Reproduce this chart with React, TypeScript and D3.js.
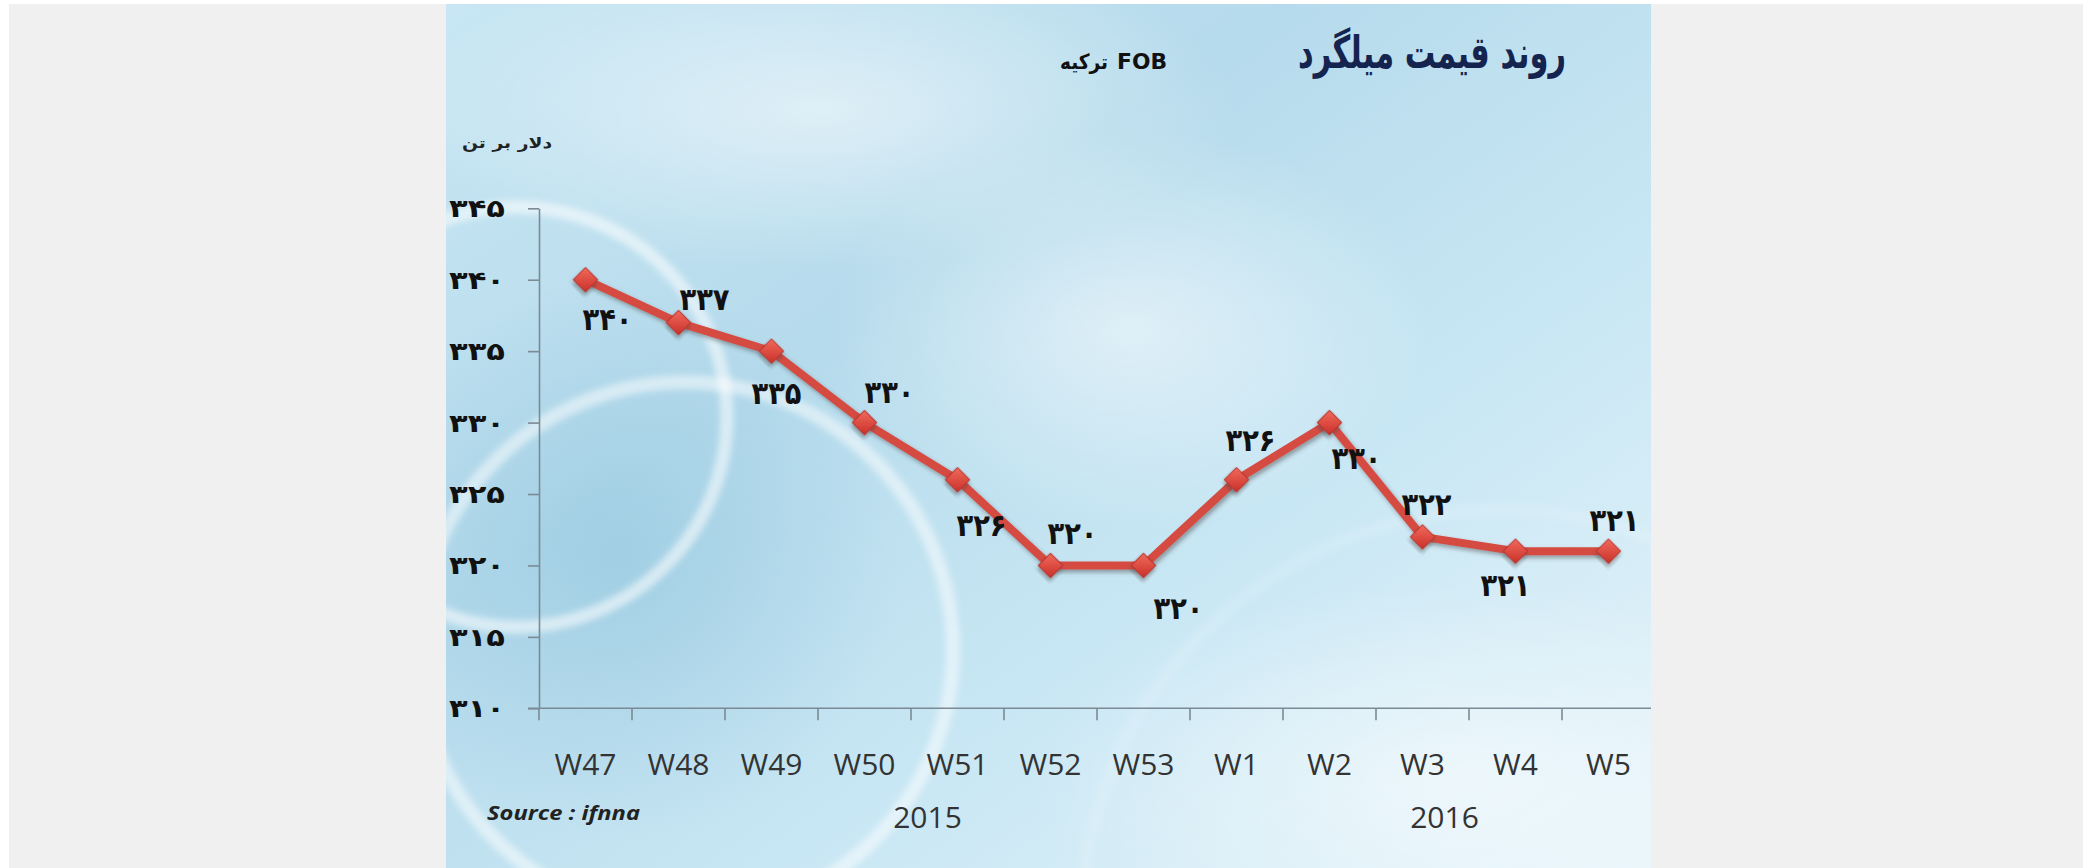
import * as d3 from 'd3';
import React, { useEffect, useRef } from 'react';

// weeks and prices (USD per ton), FOB Turkey
const weeks = ['W47', 'W48', 'W49', 'W50', 'W51', 'W52', 'W53', 'W1', 'W2', 'W3', 'W4', 'W5'];
const prices = [340, 337, 335, 330, 326, 320, 320, 326, 330, 322, 321, 321];
const yTicks = [310, 315, 320, 325, 330, 335, 340, 345];
const years = [
    { label: '2015', anchor: 'W51', dx: -30 },
    { label: '2016', anchor: 'W3', dx: 22 },
];
const title = 'روند قیمت میلگرد';
const subtitle = 'ترکیه';
const unit = 'دلار بر تن';
const source = 'Source : ifnna';

// label placement around each point (dx, dy from the marker to the text baseline centre)
const labelOffsets = [[22, 50], [26, -13], [5, 53], [25, -20], [24, 56], [22, -21], [35, 54], [14, -29], [27, 46], [4, -22], [-10, 45], [6, -20]];

const fa = (n: number) => String(n).replace(/\d/g, d => '۰۱۲۳۴۵۶۷۸۹'[+d]);

const W = 2091, H = 868;
const panel = { x0: 446, x1: 1651, y0: 4, y1: 868 };

export default function App() {
    const wrapper = useRef<SVGSVGElement>(null);

    useEffect(() => {
        const svg = d3.select(wrapper.current);
        svg.selectAll('*').remove();

        const defs = svg.append('defs');
        const bg = defs.append('linearGradient').attr('id', 'bg')
            .attr('x1', 0).attr('y1', 0).attr('x2', 1).attr('y2', 1);
        bg.append('stop').attr('offset', '0%').attr('stop-color', '#c8e6f3');
        bg.append('stop').attr('offset', '35%').attr('stop-color', '#b6dbec');
        bg.append('stop').attr('offset', '65%').attr('stop-color', '#c9e7f4');
        bg.append('stop').attr('offset', '100%').attr('stop-color', '#e6f4fa');

        const glow = defs.append('radialGradient').attr('id', 'glow');
        glow.append('stop').attr('offset', '0%').attr('stop-color', '#ffffff').attr('stop-opacity', 0.5);
        glow.append('stop').attr('offset', '100%').attr('stop-color', '#ffffff').attr('stop-opacity', 0);

        const shade = defs.append('radialGradient').attr('id', 'shade');
        shade.append('stop').attr('offset', '0%').attr('stop-color', '#86bed8').attr('stop-opacity', 0.45);
        shade.append('stop').attr('offset', '100%').attr('stop-color', '#86bed8').attr('stop-opacity', 0);

        const blur = defs.append('filter').attr('id', 'blur');
        blur.append('feGaussianBlur').attr('stdDeviation', 3);

        const shadow = defs.append('filter').attr('id', 'shadow')
            .attr('x', '-30%').attr('y', '-30%').attr('width', '160%').attr('height', '160%');
        shadow.append('feDropShadow').attr('dx', 2).attr('dy', 3).attr('stdDeviation', 2)
            .attr('flood-color', '#404040').attr('flood-opacity', 0.45);

        const mk = defs.append('linearGradient').attr('id', 'mk')
            .attr('x1', 0).attr('y1', 0).attr('x2', 1).attr('y2', 1);
        mk.append('stop').attr('offset', '0%').attr('stop-color', '#f26a5c');
        mk.append('stop').attr('offset', '100%').attr('stop-color', '#c9302a');

        defs.append('clipPath').attr('id', 'panelClip').append('rect')
            .attr('x', panel.x0).attr('y', panel.y0)
            .attr('width', panel.x1 - panel.x0).attr('height', panel.y1 - panel.y0);

        // page background
        svg.append('rect').attr('x', 9).attr('y', 4).attr('width', 2074).attr('height', H - 4).attr('fill', '#f0f0f0');

        const g = svg.append('g').attr('clip-path', 'url(#panelClip)');
        g.append('rect').attr('x', panel.x0).attr('y', panel.y0)
            .attr('width', panel.x1 - panel.x0).attr('height', panel.y1 - panel.y0).attr('fill', 'url(#bg)');
        g.append('ellipse').attr('cx', 820).attr('cy', 110).attr('rx', 420).attr('ry', 160).attr('fill', 'url(#glow)');
        g.append('ellipse').attr('cx', 1450).attr('cy', 780).attr('rx', 420).attr('ry', 200).attr('fill', 'url(#glow)');
        g.append('ellipse').attr('cx', 620).attr('cy', 560).attr('rx', 280).attr('ry', 280).attr('fill', 'url(#shade)');
        g.append('ellipse').attr('cx', 1130).attr('cy', 330).attr('rx', 300).attr('ry', 200).attr('fill', 'url(#glow)');

        // decorative rings
        g.append('circle').attr('cx', 517).attr('cy', 417).attr('r', 210)
            .attr('fill', 'none').attr('stroke', '#ffffff').attr('stroke-opacity', 0.55).attr('stroke-width', 13).attr('filter', 'url(#blur)');
        g.append('circle').attr('cx', 685).attr('cy', 650).attr('r', 268)
            .attr('fill', 'none').attr('stroke', '#ffffff').attr('stroke-opacity', 0.5).attr('stroke-width', 14).attr('filter', 'url(#blur)');
        g.append('circle').attr('cx', 1500).attr('cy', 930).attr('r', 420)
            .attr('fill', 'none').attr('stroke', '#ffffff').attr('stroke-opacity', 0.13).attr('stroke-width', 12).attr('filter', 'url(#blur)');

        const x = d3.scaleBand().domain(weeks).range([539, 1655]).padding(0);
        const y = d3.scaleLinear().domain([310, 345]).range([708.3, 208.3]);
        const cx = (w: string) => (x(w) as number) + x.bandwidth() / 2;

        // y axis
        const ya = g.append('g').attr('transform', 'translate(539,0)')
            .call(d3.axisLeft(y).tickValues(yTicks).tickSize(11).tickSizeOuter(0).tickPadding(0).tickFormat(() => ''));
        ya.select('.domain').attr('stroke', '#7b8a94').attr('stroke-width', 1.6);
        ya.selectAll('.tick line').attr('stroke', '#7b8a94').attr('stroke-width', 1.6);

        g.append('g').selectAll('text').data(yTicks).enter().append('text')
            .attr('x', 505).attr('y', d => y(d) + 9)
            .attr('text-anchor', 'end')
            .attr('font-family', 'DejaVu Sans').attr('font-weight', 'bold').attr('font-size', 25)
            .attr('textLength', 56).attr('lengthAdjust', 'spacingAndGlyphs')
            .attr('fill', '#111').text(d => fa(d));

        // x axis
        g.append('line').attr('x1', 528).attr('x2', 1655).attr('y1', y(310)).attr('y2', y(310))
            .attr('stroke', '#7b8a94').attr('stroke-width', 1.6);
        g.append('g').selectAll('line').data(weeks).enter().append('line')
            .attr('x1', d => x(d) as number).attr('x2', d => x(d) as number)
            .attr('y1', y(310)).attr('y2', y(310) + 12)
            .attr('stroke', '#7b8a94').attr('stroke-width', 1.6);

        g.append('g').selectAll('text').data(weeks).enter().append('text')
            .attr('x', d => cx(d)).attr('y', 775)
            .attr('text-anchor', 'middle')
            .attr('font-family', 'Open Sans').attr('font-size', 30).attr('fill', '#333')
            .text(d => d);

        g.append('g').selectAll('text').data(years).enter().append('text')
            .attr('x', d => cx(d.anchor) + d.dx).attr('y', 828)
            .attr('text-anchor', 'middle')
            .attr('font-family', 'Open Sans').attr('font-size', 30).attr('fill', '#333')
            .text(d => d.label);

        g.append('text').attr('x', 487).attr('y', 820)
            .attr('font-family', 'Open Sans').attr('font-style', 'italic').attr('font-weight', 'bold')
            .attr('font-size', 19).attr('textLength', 153).attr('lengthAdjust', 'spacingAndGlyphs')
            .attr('fill', '#222').text(source);

        // line + markers
        const line = d3.line<number>().x((_, i) => cx(weeks[i])).y(d => y(d));
        g.append('path').datum(prices).attr('d', line)
            .attr('fill', 'none').attr('stroke', '#d54c42').attr('stroke-width', 8)
            .attr('stroke-linejoin', 'round').attr('filter', 'url(#shadow)');

        const diamond = d3.symbol().type(d3.symbolSquare).size(300);
        g.append('g').selectAll('path').data(prices).enter().append('path')
            .attr('d', diamond)
            .attr('transform', (d, i) => `translate(${cx(weeks[i])},${y(d)}) rotate(45)`)
            .attr('fill', 'url(#mk)').attr('stroke', '#b8332c').attr('stroke-width', 1)
            .attr('filter', 'url(#shadow)');

        g.append('g').selectAll('text').data(prices).enter().append('text')
            .attr('x', (d, i) => cx(weeks[i]) + labelOffsets[i][0])
            .attr('y', (d, i) => y(d) + labelOffsets[i][1])
            .attr('text-anchor', 'middle')
            .attr('font-family', 'DejaVu Sans').attr('font-weight', 'bold').attr('font-size', 31)
            .attr('textLength', 50).attr('lengthAdjust', 'spacingAndGlyphs')
            .attr('fill', '#111').text(d => fa(d));

        // titles
        g.append('text').attr('x', 1566).attr('y', 68).attr('text-anchor', 'end')
            .attr('font-family', 'DejaVu Sans').attr('font-weight', 'bold').attr('font-size', 45)
            .attr('textLength', 268).attr('lengthAdjust', 'spacingAndGlyphs')
            .attr('fill', '#14244f').text(title);
        g.append('text').attr('x', 1167).attr('y', 69).attr('text-anchor', 'end')
            .attr('font-family', 'DejaVu Sans').attr('font-weight', 'bold').attr('font-size', 22)
            .attr('textLength', 50).attr('lengthAdjust', 'spacingAndGlyphs')
            .attr('fill', '#111').text('FOB');
        g.append('text').attr('x', 1108).attr('y', 69).attr('text-anchor', 'end')
            .attr('font-family', 'DejaVu Sans').attr('font-weight', 'bold').attr('font-size', 21)
            .attr('textLength', 48).attr('lengthAdjust', 'spacingAndGlyphs')
            .attr('fill', '#111').text(subtitle);
        g.append('text').attr('x', 552).attr('y', 148).attr('text-anchor', 'end')
            .attr('font-family', 'DejaVu Sans').attr('font-weight', 'bold').attr('font-size', 15)
            .attr('textLength', 90).attr('lengthAdjust', 'spacingAndGlyphs')
            .attr('fill', '#222').text(unit);
    }, []);

    return <svg ref={wrapper} width={W} height={H} style={{ position: 'absolute', left: 0, top: 0 }} />;
}
